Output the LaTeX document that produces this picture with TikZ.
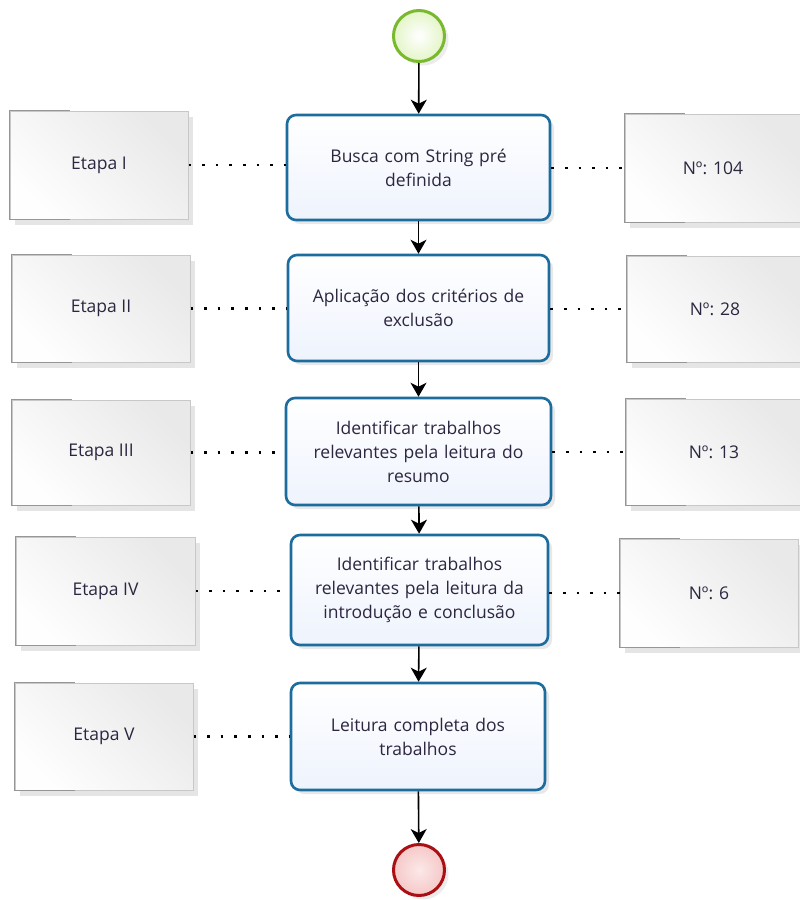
\documentclass[tikz,border=0pt]{standalone}
\usepackage{fontspec}
\setmainfont{Open Sans}
\usetikzlibrary{arrows.meta,shadows,shadings}
\definecolor{taskblue}{RGB}{28,108,158}
\definecolor{taskfill}{RGB}{238,243,253}
\definecolor{txt}{RGB}{45,38,64}
\definecolor{annofill}{RGB}{234,234,234}
\definecolor{annoline}{RGB}{200,200,200}
\definecolor{annodark}{RGB}{150,150,150}
\tikzset{
  taskbox/.style={draw=taskblue, line width=2.6pt, rounded corners=9pt,
    top color=white, bottom color=taskfill, text=txt, align=center,
    font=\fontsize{17.5}{24}\selectfont, text width=240pt,
    drop shadow={opacity=0.18, shadow xshift=4pt, shadow yshift=-4pt}},
  annobox/.style={draw=annoline, line width=1pt,
    left color=white!95!annofill, right color=annofill!85!gray!60!white,
    shading angle=135, text=txt, font=\fontsize{17.5}{24}\selectfont,
    drop shadow={opacity=0.2, shadow xshift=5pt, shadow yshift=-6pt}},
  dotline/.style={line width=2.6pt, dash pattern=on 2.6pt off 11pt},
  flow/.style={line width=1.6pt, -{Stealth[length=14pt,width=16pt,inset=4pt]}},
  bracket/.style={draw=annodark, line width=1.4pt}
}
\begin{document}
\begin{tikzpicture}[x=1pt,y=-1pt]
\fill[white] (0,0) rectangle (800,900);
\useasboundingbox (0,0) rectangle (800,900);

% start and end events
\node[circle, draw={rgb,255:red,120;green,185;blue,45}, line width=3pt, minimum size=51pt,
  inner color=white, outer color={rgb,255:red,228;green,245;blue,200},
  drop shadow={opacity=0.15, shadow xshift=4pt, shadow yshift=-4pt}] (start) at (419,36) {};
\node[circle, draw={rgb,255:red,170;green,15;blue,20}, line width=3pt, minimum size=51pt,
  inner color={rgb,255:red,252;green,232;blue,232}, outer color={rgb,255:red,245;green,200;blue,200},
  drop shadow={opacity=0.15, shadow xshift=4pt, shadow yshift=-4pt}] (end) at (419,870) {};

% task boxes
\node[taskbox, minimum width=263pt, minimum height=105pt] (t1) at (418.5,167.5) {Busca com String pré\\definida};
\node[taskbox, minimum width=261pt, minimum height=106pt] (t2) at (418.5,308) {Aplicação dos critérios de\\exclusão};
\node[taskbox, minimum width=265pt, minimum height=107pt] (t3) at (418.5,451.5) {Identificar trabalhos\\relevantes pela leitura do\\resumo};
\node[taskbox, minimum width=257pt, minimum height=110pt] (t4) at (419.5,590) {Identificar trabalhos\\relevantes pela leitura da\\introdução e conclusão};
\node[taskbox, minimum width=254pt, minimum height=107pt] (t5) at (418,736.5) {Leitura completa dos\\trabalhos};

% left annotations
\node[annobox, minimum width=178pt, minimum height=108pt] (l1) at (99,165) {Etapa I};
\node[annobox, minimum width=178pt, minimum height=107pt] (l2) at (101,308.5) {Etapa II};
\node[annobox, minimum width=178pt, minimum height=105pt] (l3) at (101,452.5) {Etapa III};
\node[annobox, minimum width=179pt, minimum height=108pt] (l4) at (105.5,591) {Etapa IV};
\node[annobox, minimum width=178pt, minimum height=107pt] (l5) at (104,736.5) {Etapa V};

% right annotations
\node[annobox, minimum width=176pt, minimum height=108pt] (r1) at (713,168) {Nº: 104};
\node[annobox, minimum width=176pt, minimum height=106pt] (r2) at (715,309) {Nº: 28};
\node[annobox, minimum width=176pt, minimum height=106pt] (r3) at (714,452) {Nº: 13};
\node[annobox, minimum width=178pt, minimum height=108pt] (r4) at (709,593) {Nº: 6};

% brackets on annotations (darker left side)
\foreach \n in {l1,l2,l3,l4,l5,r1,r2,r3,r4}{
  \draw[bracket] ([xshift=60pt]\n.north west) -- (\n.north west) -- (\n.south west) -- ([xshift=60pt]\n.south west);
}

% dotted associations
\foreach \a/\t in {l1/t1,l2/t2,l3/t3,l4/t4,l5/t5}{
  \draw[dotline] (\a.east) -- (\a.east -| \t.west);
}
\foreach \a/\t in {r1/t1,r2/t2,r3/t3,r4/t4}{
  \draw[dotline] (\a.west -| \t.east) -- (\a.west);
}

% flow
\draw[flow] (start) -- (t1);
\draw[flow] (t1) -- (t2);
\draw[flow] (t2) -- (t3);
\draw[flow] (t3) -- (t4);
\draw[flow] (t4) -- (t5);
\draw[flow] (t5) -- (end);
\end{tikzpicture}
\end{document}
